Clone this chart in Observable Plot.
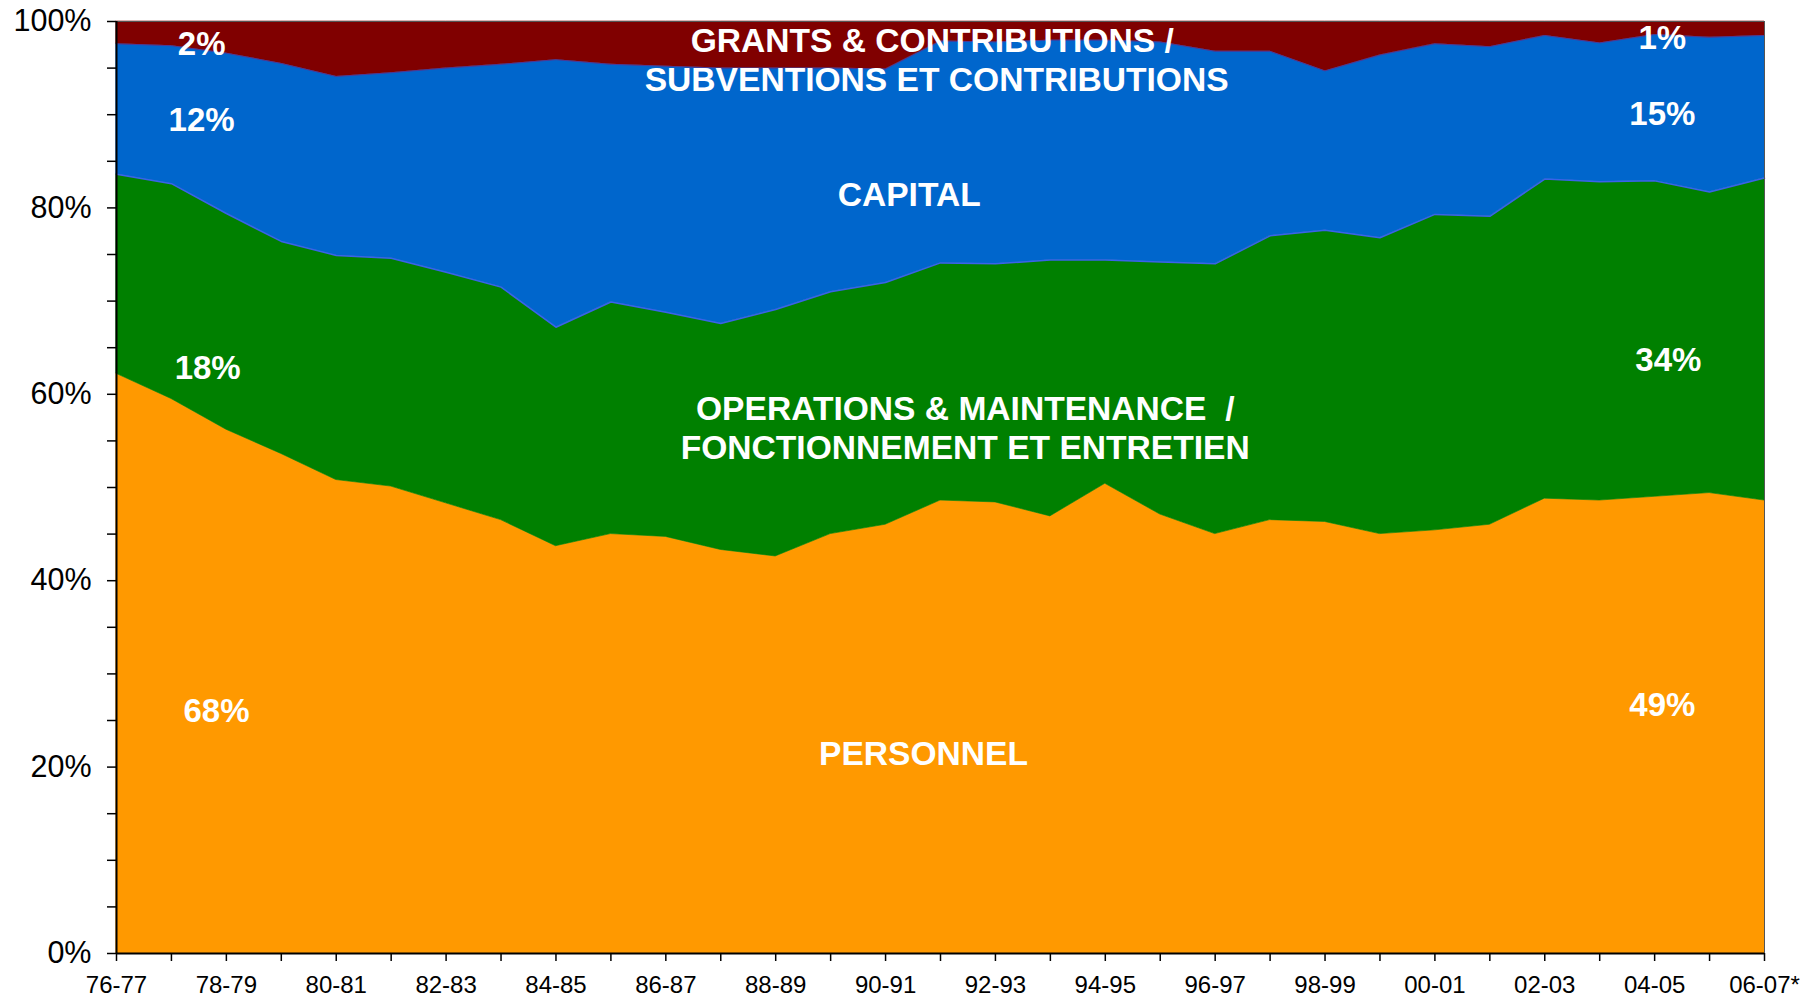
<!DOCTYPE html>
<html>
<head>
<meta charset="utf-8">
<script src="https://cdn.jsdelivr.net/npm/d3@7"></script>
<script src="https://cdn.jsdelivr.net/npm/@observablehq/plot@0.6"></script>
<style>
  html, body { margin: 0; padding: 0; background: #fff; }
  #chart svg { display: block; }
</style>
</head>
<body>
<div id="chart"></div>
<script>
const years = ["76-77","77-78","78-79","79-80","80-81","81-82","82-83","83-84","84-85","85-86",
  "86-87","87-88","88-89","89-90","90-91","91-92","92-93","93-94","94-95","95-96",
  "96-97","97-98","98-99","99-00","00-01","01-02","02-03","03-04","04-05","05-06","06-07*"];

const personnel  = [62.2, 59.5, 56.2, 53.6, 50.8, 50.1, 48.3, 46.5, 43.7, 45.0, 44.7, 43.3, 42.6, 45.0, 46.0, 48.6, 48.4, 46.9, 50.4, 47.1, 45.0, 46.5, 46.3, 45.0, 45.4, 46.0, 48.8, 48.6, 49.0, 49.4, 48.6];
const operations = [21.4, 23.1, 23.2, 22.8, 24.1, 24.5, 24.8, 25.0, 23.5, 24.9, 24.1, 24.3, 26.5, 26.0, 26.0, 25.5, 25.6, 27.5, 24.0, 27.1, 29.0, 30.5, 31.3, 31.8, 33.9, 33.1, 34.3, 34.2, 33.9, 32.3, 34.6];
const capital    = [14.0, 14.8, 17.2, 19.1, 19.2, 19.9, 21.9, 23.9, 28.7, 25.5, 26.4, 27.4, 25.9, 24.0, 22.9, 23.8, 23.8, 23.6, 23.6, 23.6, 22.8, 19.8, 17.1, 19.6, 18.3, 18.2, 15.4, 14.9, 15.7, 16.6, 15.3];
const grants     = [2.4, 2.6, 3.4, 4.5, 5.9, 5.5, 5.0, 4.6, 4.1, 4.6, 4.8, 5.0, 5.0, 5.0, 5.1, 2.1, 2.2, 2.0, 2.0, 2.2, 3.2, 3.2, 5.3, 3.6, 2.4, 2.7, 1.5, 2.3, 1.4, 1.7, 1.5];

const seriesNames = ["Personnel", "Operations", "Capital", "Grants"];
const seriesValues = [personnel, operations, capital, grants];
const seriesColors = ["#FF9900", "#008000", "#0066CC", "#800000"];

// Annotation texts (x = year index, y = percent)
const labelTexts = ["2%", "12%", "18%", "68%",
  "GRANTS & CONTRIBUTIONS /", "SUBVENTIONS ET CONTRIBUTIONS", "CAPITAL",
  "OPERATIONS & MAINTENANCE\u00a0 /", "FONCTIONNEMENT ET ENTRETIEN", "PERSONNEL",
  "1%", "15%", "34%", "49%"];
const labelX = [1.55, 1.55, 1.66, 1.82, 14.85, 14.93, 14.43, 15.45, 15.45, 14.69, 28.14, 28.14, 28.25, 28.14];
const labelY = [97.5, 89.4, 62.8, 26.0, 97.9, 93.7, 81.4, 58.4, 54.2, 21.4, 98.2, 90.0, 63.6, 26.6];
const labelSize = [33, 33, 33, 33, 33.6, 33.6, 33.6, 33.6, 33.6, 33.6, 33, 33, 33, 33];

const rows = [];
seriesNames.forEach((s, k) => seriesValues[k].forEach((v, i) => rows.push({series: s, i, value: v})));

const omTop = personnel.map((p, i) => ({i, y: p + operations[i]}));
const capTop = personnel.map((p, i) => ({i, y: p + operations[i] + capital[i]}));

const labels = labelTexts.map((t, k) => ({t, x: labelX[k], y: labelY[k], s: labelSize[k]}));

const font = "'Liberation Sans', Arial, Helvetica, sans-serif";

const chart = Plot.plot({
  width: 1820,
  height: 1000,
  marginLeft: 116,
  marginRight: 56,
  marginTop: 21,
  marginBottom: 47,
  style: {fontFamily: font, background: "#fff", color: "#000"},
  x: {domain: [0, years.length - 1]},
  y: {domain: [0, 100]},
  color: {domain: seriesNames, range: seriesColors},
  marks: [
    Plot.areaY(rows, {x: "i", y: "value", z: "series", fill: "series", stroke: "series", strokeWidth: 0.6}),
    Plot.lineY(omTop, {x: "i", y: "y", stroke: "#3b62e8", strokeWidth: 1.5}),
    Plot.lineY(capTop, {x: "i", y: "y", stroke: "#4a3a9a", strokeWidth: 1}),
    Plot.frame({stroke: "#555", strokeWidth: 1}),
    Plot.axisY({
      ticks: d3.range(0, 101, 5),
      tickFormat: d => d % 20 === 0 ? d + "%" : "",
      tickSize: 9, tickPadding: 16, fontSize: 30.5, strokeWidth: 1.5, label: null
    }),
    Plot.axisX({
      ticks: d3.range(years.length),
      tickFormat: i => i % 2 === 0 ? years[i] : "",
      tickSize: 8, tickPadding: 14, fontSize: 24, strokeWidth: 1.5, label: null
    }),
    Plot.ruleX([0], {stroke: "#000", strokeWidth: 2}),
    Plot.ruleY([0], {stroke: "#000", strokeWidth: 2}),
    Plot.text(labels, {
      x: "x", y: "y", text: "t", fontSize: "s", fill: "#fff",
      fontWeight: "bold", textAnchor: "middle", lineAnchor: "middle"
    })
  ]
});

document.getElementById("chart").appendChild(chart);
</script>
</body>
</html>
